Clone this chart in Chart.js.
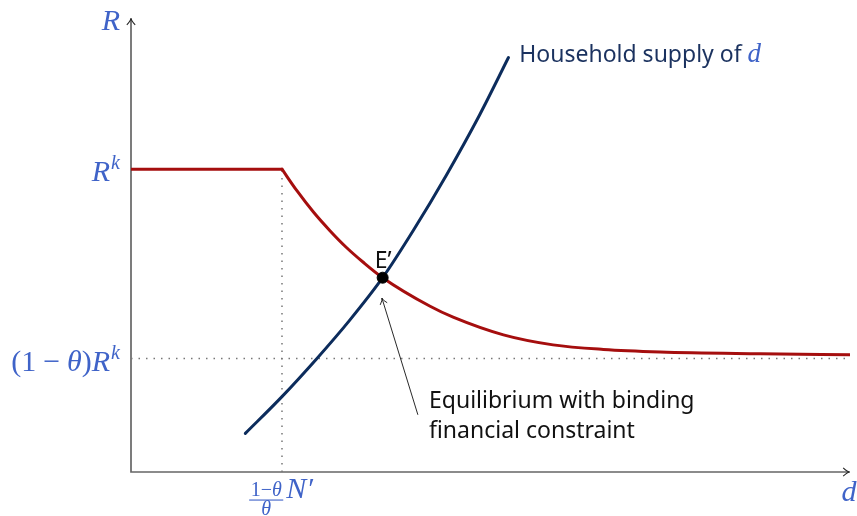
<!DOCTYPE html>
<html>
<head>
<meta charset="utf-8">
<script src="https://cdn.jsdelivr.net/npm/chart.js@4.4.0/dist/chart.umd.min.js"></script>
<style>
  html, body { margin: 0; padding: 0; background: #fff; }
  canvas { display: block; }
</style>
</head>
<body>
<canvas id="chart" width="857" height="516"></canvas>
<script>
// levels on the axes (data units, axes run 0..10)
const rkLevel = 6.67;
const lowLevel = 2.5;
const kinkD = 2.10;

// financial constraint curve (red): flat part, then decreasing part
const flatD = [0, 2.10];
const flatR = [6.67, 6.67];
const demandD = [2.10, 2.31, 2.54, 2.77, 3.00, 3.23, 3.50, 4.16, 4.48, 5.18, 5.87, 6.57, 7.36, 8.75, 10.0];
const demandR = [6.67, 6.19, 5.72, 5.31, 4.94, 4.62, 4.28, 3.65, 3.41, 3.02, 2.80, 2.70, 2.645, 2.605, 2.58];

// household supply of d (blue)
const supplyD = [1.59, 2.10, 2.58, 3.04, 3.50, 3.93, 4.39, 4.85, 5.25];
const supplyR = [0.85, 1.66, 2.49, 3.34, 4.28, 5.33, 6.55, 7.87, 9.13];

// equilibrium E'
const eqD = [3.50];
const eqR = [4.28];

// tick labels
const xTickValues = [kinkD, 10];
const xTickLabels = ["1−θ/θ N′", "d"];
const yTickValues = [10, rkLevel, lowLevel];
const yTickLabels = ["R", "R^k", "(1 − θ)R^k"];

const colors = {
  red: "#a50e0e",
  blue: "#0c2c5c",
  label: "#3f63c8",
  note: "#1b325f",
  axis: "#666",
  guide: "#777",
};

const textFont = "'Noto Sans', 'Open Sans', sans-serif";
const mathFont = "'Liberation Serif', 'DejaVu Serif', serif";

function toPoints(xs, ys) {
  return xs.map((x, i) => ({ x: x, y: ys[i] }));
}

// --- tiny math text renderer for the tick labels ---
function charRun(ch, size, up) {
  return { t: ch, it: /[A-Za-zθ]/.test(ch), size: size, up: up || 0, sp: 0 };
}

function mathRuns(str, size) {
  const parts = str.split("^");
  const runs = [];
  for (const ch of parts[0]) {
    if (ch === " ") runs.push({ t: "", size: size, sp: 7, up: 0 });
    else if (ch === "′") runs.push({ t: "′", size: size, up: 0, sp: 0, pre: 2 });
    else runs.push(charRun(ch, size));
  }
  if (parts[1]) {
    runs.push({ t: "", size: size, sp: 1, up: 0 });
    for (const ch of parts[1]) runs.push(charRun(ch, Math.round(size * 0.68), size * 0.4));
  }
  return runs;
}

function runFont(r) {
  return (r.it ? "italic " : "") + r.size + "px " + mathFont;
}

function runsWidth(ctx, runs) {
  let w = 0;
  runs.forEach((r) => {
    ctx.font = runFont(r);
    w += (r.pre || 0) + ctx.measureText(r.t).width + (r.sp || 0);
  });
  return w;
}

function drawRuns(ctx, runs, x, y) {
  runs.forEach((r) => {
    ctx.font = runFont(r);
    x += r.pre || 0;
    ctx.fillText(r.t, x, y - r.up);
    x += ctx.measureText(r.t).width + (r.sp || 0);
  });
}

function drawFractionLabel(ctx, str, cx, baseline) {
  // "num/den rest"
  const slash = str.indexOf("/");
  const space = str.indexOf(" ");
  const num = mathRuns(str.slice(0, slash), 20);
  const den = mathRuns(str.slice(slash + 1, space), 20);
  const rest = mathRuns(str.slice(space + 1), 30);
  const fw = Math.max(runsWidth(ctx, num), runsWidth(ctx, den)) + 3;
  const total = fw + 3 + runsWidth(ctx, rest);
  const x0 = cx - total / 2;
  const barY = baseline + 1.5;
  drawRuns(ctx, num, x0 + (fw - runsWidth(ctx, num)) / 2, barY - 3.5);
  ctx.fillRect(x0, barY, fw, 1.1);
  drawRuns(ctx, den, x0 + (fw - runsWidth(ctx, den)) / 2, barY + 15);
  drawRuns(ctx, rest, x0 + fw + 3, baseline);
}

function arrowHead(ctx, tx, ty, angle, len) {
  ctx.beginPath();
  ctx.moveTo(tx - len * Math.cos(angle - 0.55), ty - len * Math.sin(angle - 0.55));
  ctx.quadraticCurveTo(tx - len * 0.3 * Math.cos(angle), ty - len * 0.3 * Math.sin(angle), tx, ty);
  ctx.quadraticCurveTo(tx - len * 0.3 * Math.cos(angle), ty - len * 0.3 * Math.sin(angle),
    tx - len * Math.cos(angle + 0.55), ty - len * Math.sin(angle + 0.55));
  ctx.stroke();
}

const diagramPlugin = {
  id: "diagram",
  beforeDatasetsDraw(chart) {
    const { ctx, chartArea: a } = chart;
    ctx.save();
    ctx.strokeStyle = colors.axis;
    ctx.lineWidth = 1.7;
    ctx.beginPath();
    ctx.moveTo(a.left, a.top + 1);
    ctx.lineTo(a.left, a.bottom);
    ctx.lineTo(a.right - 1, a.bottom);
    ctx.stroke();
    ctx.strokeStyle = "#222";
    ctx.lineWidth = 1.1;
    arrowHead(ctx, a.right, a.bottom, 0, 8);
    arrowHead(ctx, a.left, a.top, -Math.PI / 2, 8);
    ctx.restore();
  },
  afterDraw(chart) {
    const { ctx, chartArea: a } = chart;
    const xs = chart.scales.x;
    const ys = chart.scales.y;
    ctx.save();
    ctx.fillStyle = colors.label;
    ctx.textBaseline = "alphabetic";
    ctx.textAlign = "left";

    yTickValues.forEach((v, i) => {
      const runs = mathRuns(yTickLabels[i], 30);
      const w = runsWidth(ctx, runs);
      drawRuns(ctx, runs, 120 - w, ys.getPixelForValue(v) + 12);
    });

    xTickValues.forEach((v, i) => {
      const px = xs.getPixelForValue(v);
      const label = xTickLabels[i];
      if (label.indexOf("/") >= 0) {
        drawFractionLabel(ctx, label, px, a.bottom + 26);
      } else {
        const runs = mathRuns(label, 30);
        drawRuns(ctx, runs, px - runsWidth(ctx, runs) / 2 - 1, a.bottom + 29);
      }
    });

    // curve label
    ctx.font = "23px " + textFont;
    ctx.fillStyle = colors.note;
    const hx = xs.getPixelForValue(5.40);
    const hy = ys.getPixelForValue(9.04);
    const txt = "Household supply of ";
    ctx.fillText(txt, hx, hy);
    ctx.fillStyle = colors.label;
    drawRuns(ctx, mathRuns("d", 27), hx + ctx.measureText(txt).width, hy);

    // equilibrium label
    ctx.fillStyle = "#111";
    ctx.font = "23px " + textFont;
    ctx.fillText("E’", xs.getPixelForValue(3.39), ys.getPixelForValue(4.49));

    // note with arrow
    ctx.fillText("Equilibrium with binding", xs.getPixelForValue(4.145), ys.getPixelForValue(1.41));
    ctx.fillText("financial constraint", xs.getPixelForValue(4.145), ys.getPixelForValue(0.75));

    const sx = xs.getPixelForValue(3.99), sy = ys.getPixelForValue(1.26);
    const tx = xs.getPixelForValue(3.49), ty = ys.getPixelForValue(3.83);
    ctx.strokeStyle = "#111";
    ctx.lineWidth = 0.9;
    ctx.beginPath();
    ctx.moveTo(sx, sy);
    ctx.lineTo(tx, ty);
    ctx.stroke();
    arrowHead(ctx, tx, ty, Math.atan2(ty - sy, tx - sx), 7);
    ctx.restore();
  },
};

const lineStyle = {
  showLine: true,
  pointRadius: 0,
  borderWidth: 3,
  borderCapStyle: "round",
  borderJoinStyle: "round",
  fill: false,
};

const guideStyle = {
  showLine: true,
  pointRadius: 0,
  borderColor: colors.guide,
  borderWidth: 1.5,
  borderDash: [1.5, 6],
};

new Chart(document.getElementById("chart"), {
  type: "scatter",
  data: {
    datasets: [
      {
        ...guideStyle,
        label: "low level",
        data: toPoints([0, 10], [lowLevel, lowLevel]),
        order: 6,
      },
      {
        ...guideStyle,
        label: "kink",
        data: toPoints([kinkD, kinkD], [0, rkLevel]),
        order: 5,
      },
      {
        ...lineStyle,
        label: "flat",
        data: toPoints(flatD, flatR),
        borderColor: colors.red,
        order: 4,
      },
      {
        ...lineStyle,
        label: "constraint",
        data: toPoints(demandD, demandR),
        borderColor: colors.red,
        cubicInterpolationMode: "monotone",
        order: 3,
      },
      {
        ...lineStyle,
        label: "Household supply of d",
        data: toPoints(supplyD, supplyR),
        borderColor: colors.blue,
        cubicInterpolationMode: "monotone",
        order: 2,
      },
      {
        label: "E'",
        data: toPoints(eqD, eqR),
        pointRadius: 5.5,
        backgroundColor: "#000",
        borderColor: "#000",
        order: 1,
      },
    ],
  },
  options: {
    responsive: false,
    animation: false,
    events: [],
    layout: { padding: { left: 131, right: 7, top: 18, bottom: 44 } },
    scales: {
      x: { type: "linear", min: 0, max: 10, display: false },
      y: { type: "linear", min: 0, max: 10, display: false },
    },
    plugins: {
      legend: { display: false },
      tooltip: { enabled: false },
    },
  },
  plugins: [diagramPlugin],
});
</script>
</body>
</html>
